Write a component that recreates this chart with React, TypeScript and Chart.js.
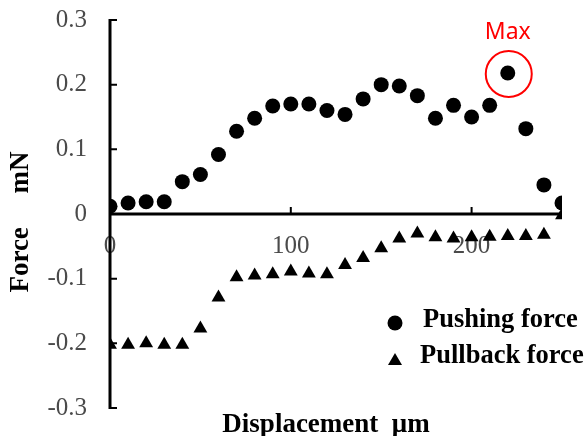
import React, { useEffect, useRef } from 'react';
import { Chart, registerables } from 'chart.js';

Chart.register(...registerables);

const displacement = [0, 10, 20, 30, 40, 50, 60, 70, 80, 90, 100, 110, 120, 130, 140, 150, 160, 170, 180, 190, 200, 210, 220, 230, 240, 250];
const pushingForce = [0.012, 0.017, 0.019, 0.019, 0.050, 0.061, 0.092, 0.128, 0.148, 0.167, 0.170, 0.170, 0.160, 0.154, 0.178, 0.200, 0.198, 0.183, 0.148, 0.168, 0.150, 0.168, 0.218, 0.132, 0.045, 0.017];
const pullbackForce = [-0.202, -0.202, -0.200, -0.202, -0.202, -0.177, -0.129, -0.098, -0.095, -0.093, -0.089, -0.092, -0.093, -0.079, -0.068, -0.053, -0.038, -0.030, -0.036, -0.038, -0.036, -0.035, -0.034, -0.034, -0.032, -0.002];
const xTickValues = [0, 100, 200];
const yTickValues = [-0.3, -0.2, -0.1, 0, 0.1, 0.2, 0.3];
const seriesNames = ['Pushing force', 'Pullback force'];
const xTitle = 'Displacement  \u03bcm';
const yTitle = 'Force     mN';
const maxLabel = 'Max';

const SERIF = '"Liberation Serif", "Times New Roman", serif';

const decorPlugin = {
  id: 'decor',
  beforeDatasetsDraw(chart: any) {
    const { ctx, scales } = chart;
    const x = scales.x;
    const y = scales.y;
    const x0 = x.getPixelForValue(0);
    const y0 = y.getPixelForValue(0);
    ctx.save();
    ctx.strokeStyle = '#000';
    ctx.lineWidth = 3;
    ctx.beginPath();
    ctx.moveTo(x0, y.getPixelForValue(yTickValues[yTickValues.length - 1]) - 1);
    ctx.lineTo(x0, y.getPixelForValue(yTickValues[0]) + 1);
    ctx.moveTo(x0, y0);
    ctx.lineTo(x.getPixelForValue(x.max), y0);
    ctx.stroke();
    ctx.lineWidth = 2;
    ctx.beginPath();
    yTickValues.forEach((v) => {
      const py = y.getPixelForValue(v);
      ctx.moveTo(x0, py);
      ctx.lineTo(x0 + 7, py);
    });
    xTickValues.forEach((v) => {
      if (v === 0) return;
      const px = x.getPixelForValue(v);
      ctx.moveTo(px, y0);
      ctx.lineTo(px, y0 - 7);
    });
    ctx.stroke();
    ctx.restore();
  },
  afterDatasetsDraw(chart: any) {
    const { ctx, scales } = chart;
    const x = scales.x;
    const y = scales.y;
    ctx.save();
    // Max marker
    let mi = 0;
    pushingForce.forEach((v, i) => { if (v > pushingForce[mi]) mi = i; });
    const mx = x.getPixelForValue(displacement[mi]);
    const my = y.getPixelForValue(pushingForce[mi]);
    ctx.strokeStyle = '#ff0000';
    ctx.lineWidth = 2;
    ctx.beginPath();
    ctx.arc(mx + 1, my + 1, 23, 0, Math.PI * 2);
    ctx.stroke();
    ctx.fillStyle = '#ff0000';
    ctx.font = '23px "Noto Sans", "Open Sans", sans-serif';
    ctx.textAlign = 'center';
    ctx.textBaseline = 'alphabetic';
    ctx.fillText(maxLabel, mx, my - 34);

    // Legend
    ctx.fillStyle = '#000';
    ctx.beginPath();
    ctx.arc(395, 323, 7.5, 0, Math.PI * 2);
    ctx.fill();
    ctx.beginPath();
    ctx.moveTo(395, 353);
    ctx.lineTo(402, 365);
    ctx.lineTo(388, 365);
    ctx.closePath();
    ctx.fill();
    ctx.font = 'bold 26.5px ' + SERIF;
    ctx.textAlign = 'left';
    ctx.fillText(seriesNames[0], 423, 327);
    ctx.fillText(seriesNames[1], 420, 363);

    // Axis titles
    ctx.textAlign = 'center';
    ctx.font = 'bold 27px ' + SERIF;
    ctx.fillText(xTitle, 326, 432);
    ctx.translate(28, 222);
    ctx.rotate(-Math.PI / 2);
    ctx.fillText(yTitle, 0, 0);
    ctx.restore();
  },
};

export default function App() {
  const ref = useRef<HTMLCanvasElement | null>(null);
  useEffect(() => {
    if (!ref.current) return;
    const chart = new Chart(ref.current, {
      type: 'scatter',
      data: {
        datasets: [
          {
            label: seriesNames[0],
            data: displacement.map((d, i) => ({ x: d, y: pushingForce[i] })),
            pointStyle: 'circle',
            pointRadius: 7.5,
            pointBackgroundColor: '#000',
            pointBorderColor: '#000',
            pointBorderWidth: 0,
            showLine: false,
          },
          {
            label: seriesNames[1],
            data: displacement.map((d, i) => ({ x: d, y: pullbackForce[i] })),
            pointStyle: 'triangle',
            pointRadius: 8,
            pointBackgroundColor: '#000',
            pointBorderColor: '#000',
            pointBorderWidth: 0,
            showLine: false,
          },
        ],
      },
      options: {
        animation: false,
        responsive: false,
        layout: { padding: { left: 0, top: 20, right: 25, bottom: 28 } },
        plugins: { legend: { display: false }, tooltip: { enabled: false } },
        scales: {
          x: {
            type: 'linear',
            position: { y: 0 } as any,
            min: 0,
            max: 250,
            grid: { display: false, drawTicks: false },
            border: { display: false },
            afterFit: (s: any) => { s.height = 0; s.paddingLeft = 0; s.paddingRight = 0; s.paddingTop = 0; s.paddingBottom = 0; },
            afterBuildTicks: (s: any) => { s.ticks = xTickValues.map((v) => ({ value: v })); },
            ticks: {
              padding: 17,
              color: '#4a4a4a',
              font: { family: SERIF, size: 25 },
              maxRotation: 0,
              callback: (v: any) => String(v),
            },
          },
          y: {
            type: 'linear',
            position: 'left',
            min: -0.3,
            max: 0.3,
            grid: { display: false, drawTicks: false },
            border: { display: false },
            afterFit: (s: any) => { s.width = 110; s.paddingTop = 0; s.paddingBottom = 0; },
            afterBuildTicks: (s: any) => { s.ticks = yTickValues.map((v) => ({ value: v })); },
            ticks: {
              padding: 23,
              color: '#4a4a4a',
              font: { family: SERIF, size: 25 },
              callback: (v: any) => String(Math.round(Number(v) * 10) / 10),
            },
          },
        },
      },
      plugins: [decorPlugin],
    });
    return () => chart.destroy();
  }, []);
  return (
    <div style={{ position: 'fixed', left: 0, top: 0, width: 587, height: 436, background: '#fff' }}>
      <canvas ref={ref} width={587} height={436} />
    </div>
  );
}
